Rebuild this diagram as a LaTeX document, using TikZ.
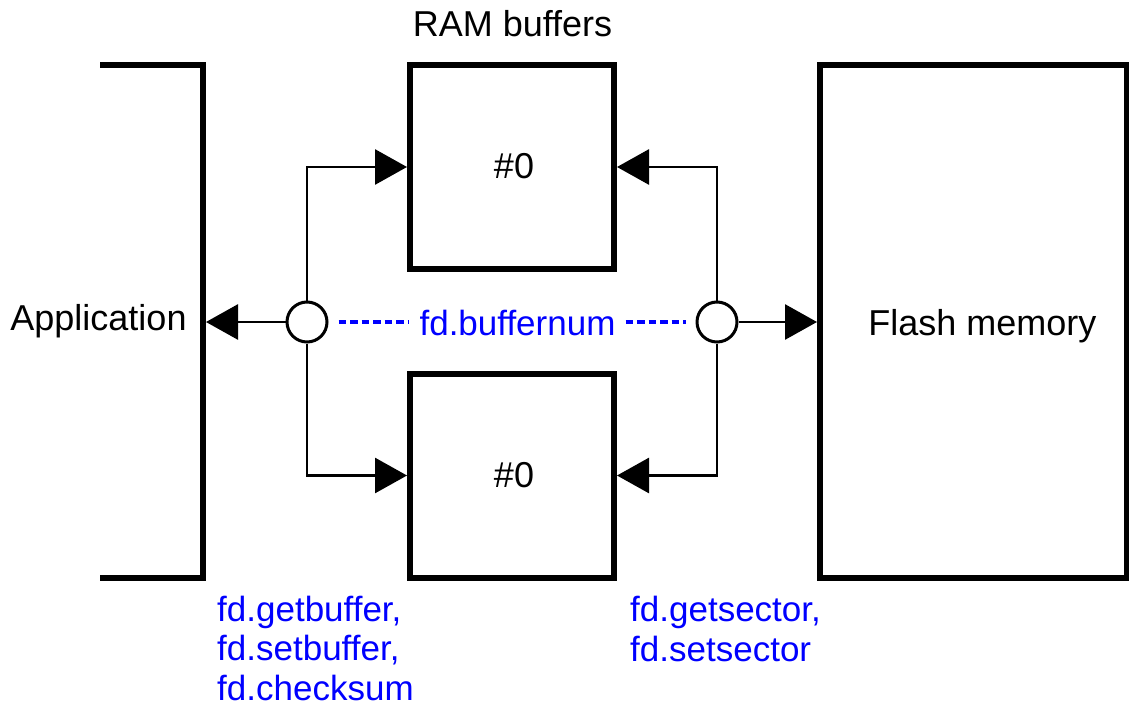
\documentclass[tikz,border=0pt]{standalone}
\usepackage{fontspec}
\setmainfont{Liberation Sans}
\usetikzlibrary{arrows.meta}
\begin{document}
\begin{tikzpicture}[x=1pt,y=-1pt,
  thickline/.style={line width=6pt},
  box/.style={draw,line width=6pt,rectangle,inner sep=0pt},
  conn/.style={line width=2.8pt,-{Triangle[length=32pt,width=35pt]}},
  junction/.style={draw,circle,line width=3pt,fill=white,minimum size=40pt,inner sep=0pt},
  blk/.style={font=\fontsize{36}{40}\selectfont,inner sep=0pt},
  blu/.style={font=\fontsize{35}{40}\selectfont,text=blue,inner sep=0pt},
  dashline/.style={draw=blue,line width=3.3pt,dash pattern=on 7.5pt off 4pt}]
\useasboundingbox (0,0) rectangle (1129,706);
% Application bracket
\draw[thickline] (100,65) -- (203,65) -- (203,578) -- (100,578);
\coordinate (appR) at (206,322);
\node[blk,anchor=base] (app) at (98.5,330) {Application};
% RAM buffers
\node[blk,anchor=base] (ramlbl) at (512.5,37) {RAM buffers};
\node[box,minimum width=204pt,minimum height=204pt] (buf1) at (512,167) {};
\node[box,minimum width=204pt,minimum height=204pt] (buf2) at (512,475.5) {};
\node[blk,anchor=base] (n1) at (514,178) {\#0};
\node[blk,anchor=base] (n2) at (514,487) {\#0};
% Flash
\node[box,minimum width=307pt,minimum height=513pt] (flash) at (973.5,321.5) {};
\node[blk,anchor=base] (flbl) at (982.5,335) {Flash memory};
% junctions
\node[junction] (lc) at (307,322) {};
\node[junction] (rc) at (717,322) {};
% connectors
\draw[conn] (lc.west) -- (appR);
\draw[conn] (lc.north) |- (buf1.west);
\draw[conn] (lc.south) |- (buf2.west);
\draw[conn] (rc.north) |- (buf1.east);
\draw[conn] (rc.south) |- (buf2.east);
\draw[conn] (rc.east) -- (rc.east -| flash.west);
% buffernum
\node[blu,anchor=base,inner xsep=10pt] (bn) at (517.5,335) {fd.buffernum};
\draw[dashline,shorten <=10pt] (lc.east) -- (lc.east -| bn.west);
\draw[dashline,shorten >=10pt] (rc.west -| bn.east) -- (rc.west);
% labels
\node[blu,anchor=base west] (gb1) at (217,621) {fd.getbuffer,};
\node[blu,anchor=base west] (gb2) at (217,660) {fd.setbuffer,};
\node[blu,anchor=base west] (gb3) at (217,700) {fd.checksum};
\node[blu,anchor=base west] (gs1) at (630,621) {fd.getsector,};
\node[blu,anchor=base west] (gs2) at (630,661) {fd.setsector};
\end{tikzpicture}
\end{document}
